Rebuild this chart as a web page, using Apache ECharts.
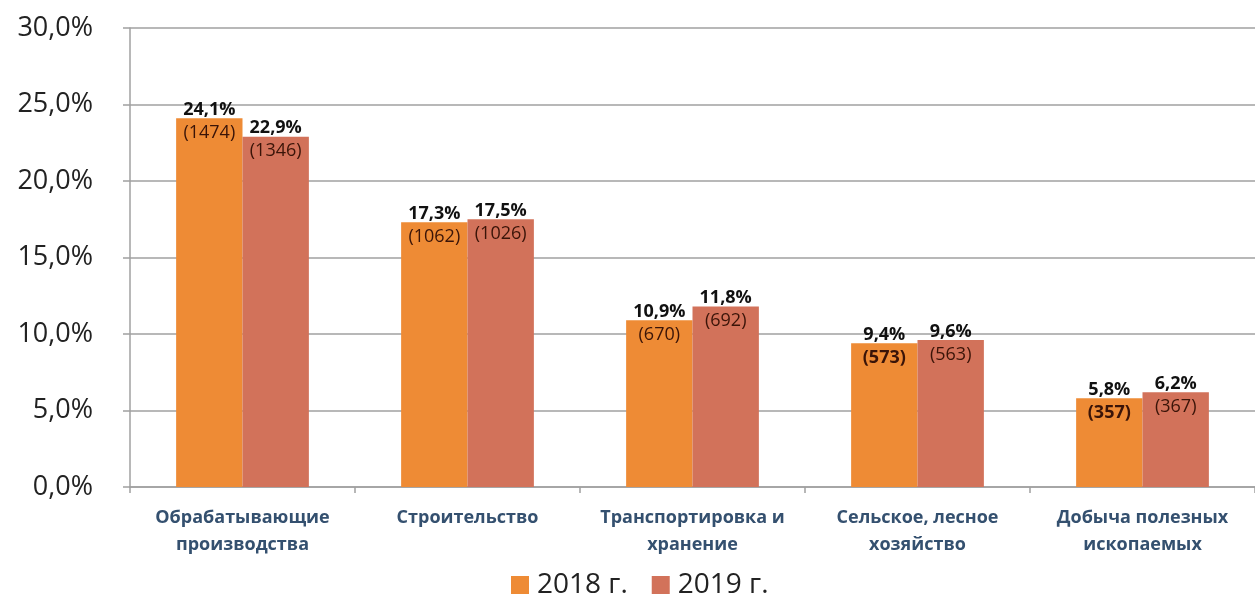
<!DOCTYPE html>
<html>
<head>
<meta charset="UTF-8">
<title>Доля по отраслям</title>
<script src="https://cdn.jsdelivr.net/npm/echarts@6/dist/echarts.min.js"></script>
<style>
html,body{margin:0;padding:0;background:#fff;}
#chart{width:1255px;height:602px;}
</style>
</head>
<body>
<div id="chart"></div>
<script>
// данные
var categories = ['Обрабатывающие\nпроизводства', 'Строительство', 'Транспортировка и\nхранение', 'Сельское, лесное\nхозяйство', 'Добыча полезных\nископаемых'];
var share2018 = [24.1, 17.3, 10.9, 9.4, 5.8];
var share2019 = [22.9, 17.5, 11.8, 9.6, 6.2];
var count2018 = [1474, 1062, 670, 573, 357];
var count2019 = [1346, 1026, 692, 563, 367];
var bold2018 = [false, false, false, true, true];
var bold2019 = [false, false, false, false, false];
var yTicks = [0, 5, 10, 15, 20, 25, 30];

function fmt(v) { return v.toFixed(1).replace('.', ','); }

function makeLabel(counts, bolds) {
  return {
    show: true,
    position: 'insideTop',
    distance: 0,
    offset: [0, -20],
    formatter: function (p) {
      var key = bolds[p.dataIndex] ? 'cb' : 'c';
      return '{p|' + fmt(p.value) + '%}\n{' + key + '|(' + counts[p.dataIndex] + ')}';
    },
    rich: {
      p: { fontFamily: 'Open Sans', fontSize: 18, fontWeight: 'bold', color: '#111', lineHeight: 23 },
      c: { fontFamily: 'Open Sans', fontSize: 18, color: '#3a1408', lineHeight: 23 },
      cb: { fontFamily: 'Open Sans', fontSize: 18, fontWeight: 'bold', color: '#3a1408', lineHeight: 23 }
    }
  };
}

var myChart = echarts.init(document.getElementById('chart'));
var option = {
  animation: false,
  grid: { left: 130, right: 0, top: 28, bottom: 115 },
  legend: {
    left: 506,
    top: 566,
    icon: 'rect',
    itemWidth: 18,
    itemHeight: 18,
    itemGap: 24,
    textStyle: { fontFamily: 'Open Sans', fontSize: 28, color: '#222', padding: [0, 0, 0, 3] },
    data: ['2018 г.', '2019 г.']
  },
  xAxis: {
    type: 'category',
    data: categories,
    axisLine: { lineStyle: { color: '#a0a0a0', width: 1.5 } },
    axisTick: { show: true, length: 6, lineStyle: { color: '#a0a0a0', width: 1.5 } },
    axisLabel: {
      fontFamily: 'Open Sans', fontSize: 18, fontWeight: 'bold', color: '#34506f',
      lineHeight: 27, margin: 17, interval: 0
    }
  },
  yAxis: {
    type: 'value',
    min: 0,
    max: 30,
    interval: 5,
    axisLine: { show: true, lineStyle: { color: '#a0a0a0', width: 1.5 } },
    axisTick: { show: true, inside: false, length: 7, lineStyle: { color: '#a0a0a0', width: 1.5 } },
    splitLine: { lineStyle: { color: '#a0a0a0', width: 1.5 } },
    axisLabel: {
      fontFamily: 'Open Sans', fontSize: 27, color: '#222', margin: 37,
      formatter: function (v) { return yTicks.indexOf(v) >= 0 ? fmt(v) + '%' : ''; }
    }
  },
  series: [
    {
      name: '2018 г.',
      type: 'bar',
      data: share2018,
      barGap: '0%',
      barCategoryGap: '41%',
      itemStyle: { color: '#ee8b35' },
      label: makeLabel(count2018, bold2018)
    },
    {
      name: '2019 г.',
      type: 'bar',
      data: share2019,
      itemStyle: { color: '#d2725a' },
      label: makeLabel(count2019, bold2019)
    }
  ]
};
myChart.setOption(option);
</script>
</body>
</html>
